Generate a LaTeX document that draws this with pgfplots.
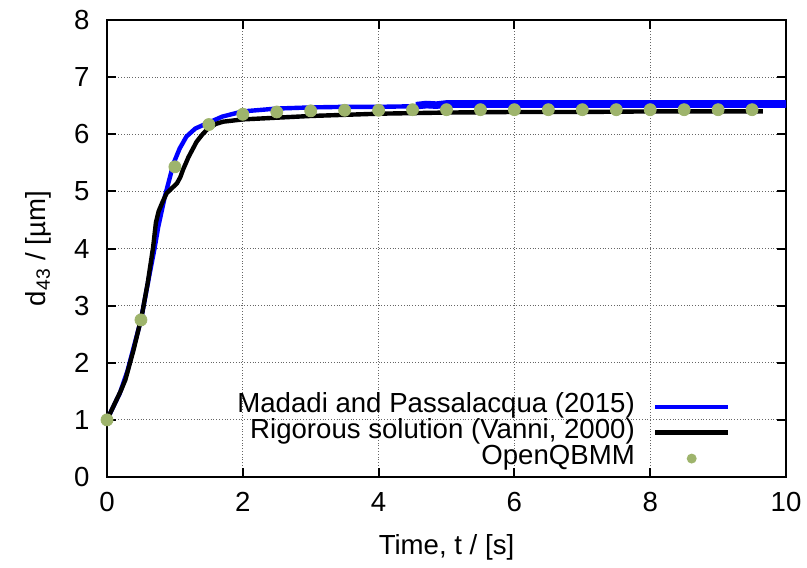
\documentclass[border=0pt]{standalone}
\usepackage{pgfplots}
\pgfplotsset{compat=1.18}
\usepackage{fontspec}
\setmainfont{Liberation Sans}
\definecolor{qbmm}{RGB}{158,180,108}

\begin{document}
\fontsize{13.8pt}{16pt}\selectfont
\begin{tikzpicture}
\begin{axis}[
    scale only axis,
    width=339.5pt, height=228.5pt,
    xmin=0, xmax=10, ymin=0, ymax=8,
    xtick={0,2,...,10}, ytick={0,1,...,8},
    /pgf/number format/assume math mode=true,
    tick align=inside,
    major tick length=4.5pt,
    axis line style={line width=1pt},
    every tick/.style={black, line width=1pt},
    grid=major,
    grid style={densely dotted, gray!80!black, line width=0.5pt},
    xticklabel style={yshift=-3pt},
    yticklabel style={xshift=-4pt},
    xlabel={Time, t / [s]},
    ylabel={d\textsubscript{43} / [µm]},
    xlabel style={yshift=-2pt},
    ylabel style={yshift=2pt},
    legend plot pos=right,
    legend cell align=right,
    legend style={draw=none, fill=none, inner sep=0pt,
        at={(rel axis cs:0.919,0.011)}, anchor=south east,
        column sep=9pt,
        nodes={inner sep=0pt, text height=9.5pt, text depth=3.5pt}},
]
% Madadi and Passalacqua (2015)
\addplot[blue, line width=2.2pt, line join=round,
    legend image code/.code={\draw[blue, line width=2pt] (0pt,0pt) -- (36.5pt,0pt);}]
    coordinates {
    (0,1.0) (0.19,1.47) (0.3,1.85) (0.4,2.3) (0.5,2.75) (0.63,3.57)
    (0.7,4.0) (0.755,4.38) (0.85,4.9) (0.98,5.49) (1.07,5.75) (1.17,5.96)
    (1.3,6.1) (1.47,6.19) (1.7,6.31) (2.0,6.40) (2.5,6.45) (3.0,6.47)
    (3.5,6.48) (4.0,6.48) (4.5,6.49) (5.0,6.50) (6.0,6.51) (7.0,6.51)
    (8.0,6.51) (9.0,6.52) (10.0,6.52)
    };
\addlegendentry{Madadi and Passalacqua (2015)}
% noisy band of the same solution at late times
\addplot[blue, line width=3.8pt, forget plot]
    coordinates {
    (4.55,6.50) (4.7,6.52) (4.85,6.51) (5.0,6.53) (6.0,6.53) (7.0,6.53)
    (8.0,6.53) (9.0,6.53) (10.0,6.53)
    };
% Rigorous solution (Vanni, 2000)
\addplot[black, line width=2.2pt, line join=round,
    legend image code/.code={\draw[black, line width=2.4pt] (0pt,0pt) -- (36.5pt,0pt);}]
    coordinates {
    (0,1.0) (0.1,1.25) (0.2,1.5) (0.27,1.70) (0.39,2.22) (0.51,2.81)
    (0.6,3.4) (0.68,4.03) (0.72,4.45) (0.76,4.65) (0.82,4.82) (0.88,4.97)
    (0.95,5.05) (1.03,5.14) (1.08,5.25) (1.12,5.38) (1.2,5.6) (1.32,5.87)
    (1.4,5.99) (1.47,6.08) (1.6,6.18) (1.71,6.22) (2.0,6.26) (2.5,6.29)
    (3.0,6.32) (4.0,6.36) (5.0,6.38) (6.0,6.39) (7.0,6.39) (8.0,6.40)
    (9.0,6.40) (9.66,6.40)
    };
\addlegendentry{Rigorous solution (Vanni, 2000)}
% OpenQBMM
\addplot[only marks, mark=*, mark size=3pt, qbmm, mark options={draw=qbmm, fill=qbmm},
    legend image code/.code={\path[draw=none, fill=none] (0pt,0pt) -- (36.5pt,0pt); \fill[qbmm, draw=none] (18.25pt,0pt) circle (2.5pt);}]
    coordinates {
    (0,1.0) (0.5,2.75) (1.0,5.43) (1.5,6.17) (2.0,6.35) (2.5,6.39)
    (3.0,6.41) (3.5,6.42) (4.0,6.42) (4.5,6.43) (5.0,6.43) (5.5,6.43)
    (6.0,6.43) (6.5,6.43) (7.0,6.43) (7.5,6.43) (8.0,6.43) (8.5,6.43)
    (9.0,6.43) (9.5,6.43)
    };
\addlegendentry{OpenQBMM}
\end{axis}
\pgfresetboundingbox
\path[use as bounding box] (-53.5pt,-45pt) rectangle (350pt,238.5pt);
\end{tikzpicture}
\end{document}
